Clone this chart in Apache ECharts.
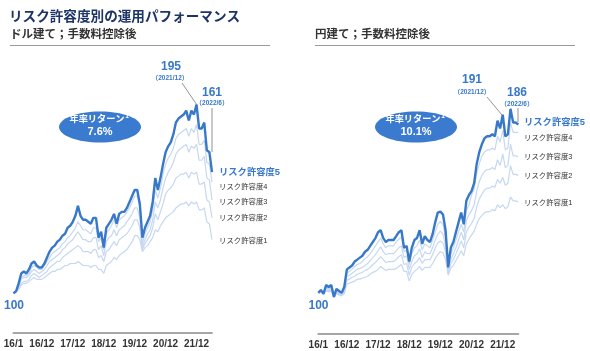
<!DOCTYPE html>
<html>
<head>
<meta charset="UTF-8">
<title>リスク許容度別の運用パフォーマンス</title>
<script src="https://cdn.jsdelivr.net/npm/echarts@6/dist/echarts.min.js"></script>
</head>
<body style="margin:0;background:#fff">
<div id="chart" style="width:590px;height:351px"></div>
<script>
// months 2016/1 .. 2022/6
var months = [];
for (var y = 2016; y <= 2022; y++) {
    for (var m = 1; m <= 12; m++) {
        if (y == 2022 && m > 6) break;
        months.push(y + '/' + m);
    }
}
var tickIndex = [0, 11, 23, 35, 47, 59, 71];
var tickLabels = ['16/1', '16/12', '17/12', '18/12', '19/12', '20/12', '21/12'];
var riskNames = ['リスク許容度1', 'リスク許容度2', 'リスク許容度3', 'リスク許容度4', 'リスク許容度5'];

// ドル建て
var usd5 = [100,101,105,110,111,110,112,115,116,114,113,113,115,118,121,123,124,126,127,129,
    130,133,134,136,139,144,139,137,137,136,135,138,138,128,131,123,133,135,137,140,
    135,140,141,141,143,146,149,152,152,145,128,133,136,139,146,158,152,158,165,171,
    174,176,180,186,188,189,190,192,187,192,190,195,183,183,186,172,171,161];
var usd4 = [100,101,104,108,109,109,110,113,114,113,112,112,114,
    116,118,120,121,122,123,125,126,128,129,131,133,
    136,134,132,132,131,130,133,133,126,128,122,
    130,132,134,137,133,137,138,139,141,143,146,149,149,
    143,125,130,133,136,142,152,148,153,160,165,
    168,170,173,178,180,181,182,183,179,183,181,
    185,175,175,177,166,165,156];
var usd3 = [100,101,103,107,108,108,109,111,112,111,110,111,112,
    114,116,117,118,119,120,122,123,125,126,127,129,
    131,129,127,127,126,126,128,128,122,124,119,
    126,128,129,132,129,132,133,134,136,138,140,143,143,
    138,123,127,130,132,137,146,143,147,153,158,
    161,163,166,170,172,173,174,175,171,174,173,
    175,167,167,169,158,157,147];
var usd2 = [100,101,103,105,106,106,107,109,110,109,108,109,110,
    111,113,114,115,116,116,118,119,120,121,122,123,
    124,123,121,121,121,120,122,122,118,119,116,
    121,122,124,126,124,127,128,129,130,132,134,137,137,
    133,122,125,127,129,133,140,137,141,145,150,
    152,153,155,158,159,160,160,161,158,161,160,
    161,155,155,156,147,146,138];
var usd1 = [100,101,102,104,105,105,106,107,108,107,107,107,108,
    109,110,111,111,112,112,113,114,114,115,115,115,
    116,115,114,114,114,113,114,114,112,112,110,
    114,115,116,118,117,119,120,121,122,124,126,129,129,
    127,121,123,124,126,128,132,131,134,136,138,
    139,140,141,143,144,145,145,146,144,146,145,
    146,142,142,143,136,135,127];

// 円建て
var jpy5 = [100,101.5,99.5,104,103,104,98,102,101,100,103,112,113,114,116,117,118,119,121,122,
    124,126,128,131,132,128,126,127,127,127,129,131,132,123,124,116,123,127,128,132,
    125,129,127,126,130,136,141,141.5,140,132,113,123,126,131,136,141,135,147,150,152,
    156,166,172,176,179,180,180,181,180,188,184,191,180,181,194,187,187,186];
var jpy4 = [100,101,99.5,103,102,103,97.5,101,100,99.5,102,110,
    111,112,113.5,114.5,115,116,117.5,118.5,120,122,124,126,128,
    125,123,124,124,124,126,127.5,128.5,121,122,114.5,
    120,123,124,127,122,125,124,123,127,131,135,136.5,135,128,
    112,120,123,127,131,135,131,142,145,150,
    153,161,166,170,172,173,173,174,173,180,177,
    183,173,174,187,182,182,182];
var jpy3 = [100,101,99.5,102.5,101.5,102.5,97.5,100.5,99.5,99,101,108.5,
    109,110,111,112,112.5,113,114,115,116.5,118,119.5,121.5,123.5,
    121,119.5,120,120,120,121.5,123,124,118,119,112,
    116,119,120,122.5,118,121,120,120,123,127,130,131.5,130,124,
    111,117,120,123,127,131,127,137,140,142,
    145,152,157,160,162,163,163,164,163,168,165,
    171,164,165,176,170,170,169.5];
var jpy2 = [100,100.5,99.5,101.5,101,101.5,97.5,100,99,99,100.5,106.5,
    107,108,108.5,109.5,110,110.5,111.5,112,113,114.5,115.5,117,118.5,
    117,115.5,116,116,116,117,118.5,119.5,114.5,115,109,
    113,115,116,118,115,117,117,117,119.5,123,125.5,126.5,125.5,121,
    110,115,117,120,123,126.5,123,131,133.5,135.5,
    138,144,148,150.5,152.5,153.5,153.5,154.5,154,158,156,
    159,155,156,165,160.5,160.5,160];
var jpy1 = [100,100.5,99.5,101,100.5,101,98,99.5,99,98.5,99.5,104.5,
    105,105.5,106,107,107,107.5,108,108.5,109.5,110.5,111,112,113.5,
    112.5,111.5,112,112,112,112.5,113.5,114.5,111,111,106,
    109.5,111,112,113.5,111.5,113,113,113,115,117.5,119.5,121,120.5,117,
    109,112.5,114,116.5,119,121.5,119,125,127.5,129.5,
    131.5,135,138,139.5,141,141.5,141.5,142.5,142,145,143.5,
    145,143,144,149,147,147,146.5];

var usdData = [usd1, usd2, usd3, usd4, usd5];
var jpyData = [jpy1, jpy2, jpy3, jpy4, jpy5];

var mainBlue = '#3878c8';
var lightBlue = '#c6d8f1';
var jpFont = "'Liberation Sans', 'Noto Sans CJK JP', sans-serif";

function xAxisFor(idx) {
    return {
        gridIndex: idx,
        type: 'category',
        data: months,
        boundaryGap: false,
        axisLine: { lineStyle: { color: '#a6a6a6', width: 2 } },
        axisTick: { show: false },
        axisLabel: {
            interval: function (i) { return tickIndex.indexOf(i) >= 0; },
            formatter: function (v, i) { return tickLabels[tickIndex.indexOf(i)]; },
            color: '#333',
            fontSize: 10,
            fontWeight: 'bold',
            fontFamily: jpFont,
            margin: 6,
            showMinLabel: true
        },
        splitLine: { show: false }
    };
}

var series = [];
[usdData, jpyData].forEach(function (set, g) {
    set.forEach(function (d, k) {
        var main = k == 4;
        series.push({
            name: riskNames[k],
            type: 'line',
            xAxisIndex: g,
            yAxisIndex: g,
            data: d,
            showSymbol: false,
            silent: true,
            z: main ? 5 : 2,
            lineStyle: { color: main ? mainBlue : lightBlue, width: main ? 2.4 : 1.2 }
        });
    });
});

function txt(x, y, text, size, color, weight, align) {
    return {
        type: 'text', x: x, y: y, silent: true,
        style: {
            text: text, fill: color, fontSize: size, fontWeight: weight || 'normal',
            fontFamily: jpFont, textAlign: align || 'left', textVerticalAlign: 'middle'
        }
    };
}
function seg(x1, y1, x2, y2, color, w) {
    return {
        type: 'line', silent: true,
        shape: { x1: x1, y1: y1, x2: x2, y2: y2 },
        style: { stroke: color, lineWidth: w }
    };
}
function bubble(cx, cy, rate) {
    return [
        { type: 'ellipse', silent: true, shape: { cx: cx, cy: cy, rx: 41, ry: 15.5 }, style: { fill: '#3a7bd0' } },
        txt(cx - 3, cy - 8, '年率リターン', 9.2, '#fff', 'bold', 'center'),
        txt(cx + 27, cy - 10.5, '1', 6.5, '#fff', 'bold', 'center'),
        txt(cx, cy + 5, rate, 11, '#fff', 'bold', 'center')
    ];
}

var graphic = [
    txt(9, 17, 'リスク許容度別の運用パフォーマンス', 13.6, '#1d3466', 'bold'),
    txt(10, 35, 'ドル建て；手数料控除後', 11.5, '#333', 'bold'),
    seg(10, 45.5, 270, 45.5, '#9a9a9a', 1),
    txt(315, 35, '円建て；手数料控除後', 11.5, '#333', 'bold'),
    seg(315, 45.5, 575, 45.5, '#9a9a9a', 1),
    // ドル建て annotations
    txt(171, 67, '195', 12, mainBlue, 'bold', 'center'),
    txt(170, 78, '（2021/12）', 6.5, mainBlue, 'bold', 'center'),
    seg(182, 83, 197, 105, '#777', 0.8),
    txt(212, 93, '161', 12, mainBlue, 'bold', 'center'),
    txt(212, 103, '（2022/6）', 6.5, mainBlue, 'bold', 'center'),
    seg(212, 108, 212, 152, '#777', 0.8),
    txt(14, 306, '100', 12, mainBlue, 'bold', 'center'),
    txt(219, 172, riskNames[4], 9.3, mainBlue, 'bold'),
    txt(219, 187, riskNames[3], 7.4, '#333'),
    txt(219, 202, riskNames[2], 7.4, '#333'),
    txt(219, 218, riskNames[1], 7.4, '#333'),
    txt(219, 241, riskNames[0], 7.4, '#333'),
    // 円建て annotations
    txt(472, 80, '191', 12, mainBlue, 'bold', 'center'),
    txt(472, 92, '（2021/12）', 6.5, mainBlue, 'bold', 'center'),
    seg(487, 97, 502, 115, '#777', 0.8),
    txt(517, 93, '186', 12, mainBlue, 'bold', 'center'),
    txt(517, 104, '（2022/6）', 6.5, mainBlue, 'bold', 'center'),
    seg(518, 108, 518, 122, '#777', 0.8),
    txt(318.5, 306, '100', 12, mainBlue, 'bold', 'center'),
    txt(524, 122, riskNames[4], 9.3, mainBlue, 'bold'),
    txt(524, 138, riskNames[3], 7.4, '#333'),
    txt(524, 157, riskNames[2], 7.4, '#333'),
    txt(524, 176, riskNames[1], 7.4, '#333'),
    txt(524, 203, riskNames[0], 7.4, '#333')
].concat(bubble(100, 127, '7.6%'), bubble(416, 127, '10.1%'));

var chart = echarts.init(document.getElementById('chart'), null, { renderer: 'canvas' });
chart.setOption({
    animation: false,
    backgroundColor: '#fff',
    grid: [
        { left: 13.5, top: 55, width: 198.5, height: 278 },
        { left: 318.3, top: 54, width: 200, height: 280 }
    ],
    xAxis: [xAxisFor(0), xAxisFor(1)],
    yAxis: [
        { gridIndex: 0, type: 'value', min: 80, max: 220, show: false, splitLine: { show: false } },
        { gridIndex: 1, type: 'value', min: 79, max: 222, show: false, splitLine: { show: false } }
    ],
    series: series,
    graphic: graphic
});
</script>
</body>
</html>
